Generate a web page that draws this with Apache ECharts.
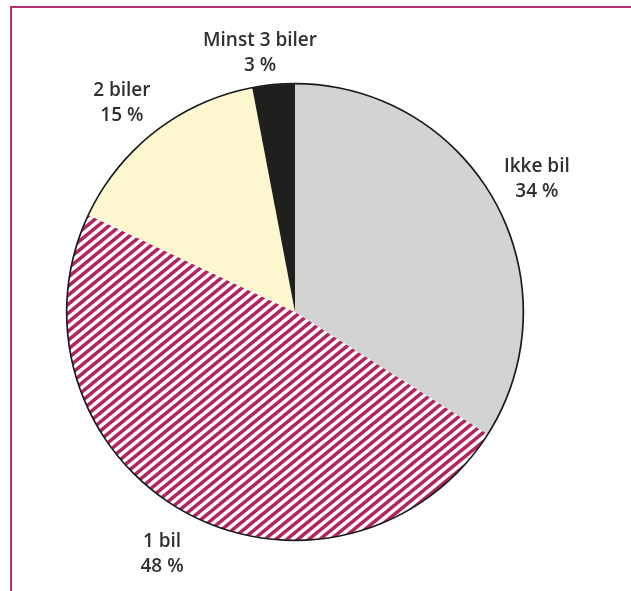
<!DOCTYPE html>
<html>
<head>
<meta charset="utf-8">
<script src="https://cdn.jsdelivr.net/npm/echarts@6/dist/echarts.min.js"></script>
<style>
html,body{margin:0;padding:0;background:#fff;}
#chart{width:631px;height:591px;}
</style>
</head>
<body>
<div id="chart"></div>
<script>
var categories = ['Ikke bil', '1 bil', '2 biler', 'Minst 3 biler'];
var shares = [34, 48, 15, 3];
var sliceColors = ['#d3d3d1', 'hatch', '#fdf7cf', '#1f1f1d'];

// small label nudges (styling only)
var labelNudge = {'2 biler': [-4, 9], 'Minst 3 biler': [-9, 16]};

function makeHatch() {
  var W = 11, H = 9;
  var c = document.createElement('canvas');
  c.width = W; c.height = H;
  var ctx = c.getContext('2d');
  ctx.fillStyle = '#ffffff';
  ctx.fillRect(0, 0, W, H);
  ctx.strokeStyle = '#b3255f';
  ctx.lineWidth = 3.6;
  for (var k = -1; k <= 3; k++) {
    ctx.beginPath();
    ctx.moveTo((k + 1) * W, -H);
    ctx.lineTo((k - 2) * W, 2 * H);
    ctx.stroke();
  }
  return c;
}
var hatch = makeHatch();

var chart = echarts.init(document.getElementById('chart'), null, {renderer: 'canvas'});
var mainData = categories.map(function (n, i) {
  var col = sliceColors[i] === 'hatch' ? {image: hatch, repeat: 'repeat'} : sliceColors[i];
  return {name: n, value: shares[i], itemStyle: {color: col}};
});
var labelData = categories.map(function (n, i) {
  var d = {name: n, value: shares[i]};
  if (labelNudge[n]) d.label = {offset: labelNudge[n]};
  return d;
});
var total = shares.reduce(function (a, b) { return a + b; }, 0);

chart.setOption({
  animation: false,
  graphic: [{
    type: 'rect',
    shape: {x: 11, y: 7, width: 660, height: 640},
    style: {fill: 'none', stroke: '#b5326d', lineWidth: 2},
    silent: true
  }],
  series: [{
    type: 'pie',
    center: [295, 312],
    radius: [0, 228],
    startAngle: 90,
    clockwise: true,
    silent: true,
    label: {show: false},
    labelLine: {show: false},
    itemStyle: {borderWidth: 0},
    emphasis: {disabled: true},
    data: mainData
  }, {
    type: 'pie',
    center: [295, 312],
    radius: [227.5, 229.2],
    silent: true,
    label: {show: false},
    labelLine: {show: false},
    itemStyle: {color: '#1a1a1a', borderWidth: 0},
    emphasis: {disabled: true},
    data: [{name: 'ring', value: total}]
  }, {
    type: 'pie',
    center: [295, 312],
    radius: [228, 318],
    startAngle: 90,
    clockwise: true,
    silent: true,
    itemStyle: {color: 'rgba(0,0,0,0)', borderWidth: 0},
    emphasis: {disabled: true},
    labelLine: {show: false},
    label: {
      show: true,
      position: 'inside',
      formatter: '{b}\n{c} %',
      color: '#303030',
      fontFamily: 'Open Sans',
      fontWeight: 600,
      fontSize: 19,
      lineHeight: 25,
      align: 'center'
    },
    data: labelData
  }]
});
</script>
</body>
</html>
